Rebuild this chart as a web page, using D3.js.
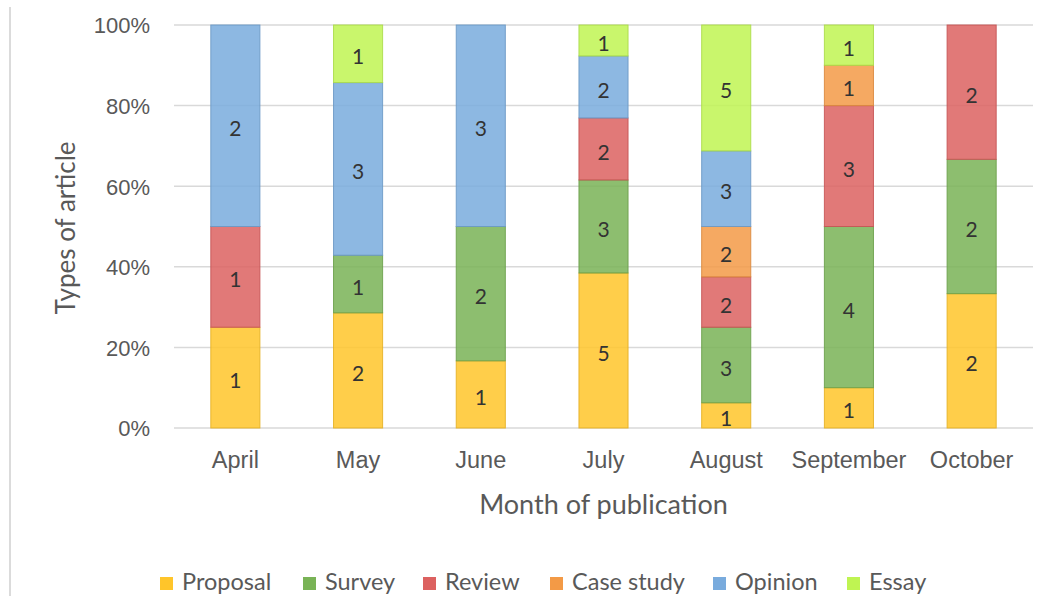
<!DOCTYPE html>
<html>
<head>
<meta charset="utf-8">
<title>Types of article by month</title>
<script src="https://cdnjs.cloudflare.com/ajax/libs/d3/7.8.5/d3.min.js"></script>
<style>
body { margin: 0; background: #fff; }
svg { font-family: Lato, "Open Sans", sans-serif; }
.grid line { stroke: #d9d9d9; stroke-width: 1.5; }
.axis text { fill: #595959; }
.ytick text { font-size: 22px; }
.xtick text { font-size: 23.5px; }
.seg { fill-opacity: 0.85; stroke-opacity: 0.9; stroke-width: 1; }
.val { fill: #333; font-size: 21px; text-anchor: middle; dominant-baseline: central; }
.title { fill: #595959; }
.legend text { fill: #595959; font-size: 23.5px; }
</style>
</head>
<body>
<div id="chart"></div>
<script>
// data
var months = ['April', 'May', 'June', 'July', 'August', 'September', 'October'];
var types = ['Proposal', 'Survey', 'Review', 'Case study', 'Opinion', 'Essay'];
var colors = ['#ffc52a', '#79b356', '#dc6160', '#f39a46', '#79abdd', '#bff452'];

var proposal  = [1, 2, 1, 5, 1, 1, 2];
var survey    = [0, 1, 2, 3, 3, 4, 2];
var review    = [1, 0, 0, 2, 2, 3, 2];
var caseStudy = [0, 0, 0, 0, 2, 1, 0];
var opinion   = [2, 3, 3, 2, 3, 0, 0];
var essay     = [0, 1, 0, 1, 5, 1, 0];

var yTicks = [0, 0.2, 0.4, 0.6, 0.8, 1];

var series = [proposal, survey, review, caseStudy, opinion, essay];

var rows = months.map(function (m, i) {
  var r = { month: m };
  types.forEach(function (t, j) { r[t] = series[j][i]; });
  return r;
});

var W = 1053, H = 596;
var svg = d3.select('#chart').append('svg')
  .attr('width', W).attr('height', H);

// thin frame line on the left
svg.append('line')
  .attr('x1', 10).attr('x2', 10).attr('y1', 7).attr('y2', H)
  .attr('stroke', '#cfcfcf').attr('stroke-width', 1.5);

var x = d3.scaleBand()
  .domain(months)
  .range([174, 1033])
  .paddingInner(0.6).paddingOuter(0.3);

var y = d3.scaleLinear().domain([0, 1]).range([428, 25]);

// gridlines
svg.append('g').attr('class', 'grid')
  .selectAll('line')
  .data(yTicks)
  .join('line')
  .attr('x1', 174).attr('x2', 1033)
  .attr('y1', d => y(d)).attr('y2', d => y(d));

// y axis labels
var yAxis = svg.append('g').attr('class', 'axis ytick')
  .attr('transform', 'translate(160,0)')
  .call(d3.axisLeft(y).tickValues(yTicks).tickFormat(d3.format('.0%')).tickSize(0).tickPadding(10));
yAxis.select('.domain').remove();
yAxis.selectAll('text').attr('dy', '0.36em');

// x axis labels
var xAxis = svg.append('g').attr('class', 'axis xtick')
  .attr('transform', 'translate(0,428)')
  .call(d3.axisBottom(x).tickSize(0).tickPadding(23));
xAxis.select('.domain').remove();

var stack = d3.stack().keys(types).offset(d3.stackOffsetExpand);
var layers = stack(rows);

var g = svg.append('g');
layers.forEach(function (layer, j) {
  var lg = g.append('g');
  lg.selectAll('rect')
    .data(layer.filter(d => d[1] - d[0] > 0))
    .join('rect')
    .attr('class', 'seg')
    .attr('x', d => x(d.data.month))
    .attr('width', x.bandwidth())
    .attr('y', d => y(d[1]))
    .attr('height', d => y(d[0]) - y(d[1]))
    .attr('fill', colors[j])
    .attr('stroke', d3.color(colors[j]).darker(0.3));
  lg.selectAll('text')
    .data(layer.filter(d => d[1] - d[0] > 0))
    .join('text')
    .attr('class', 'val')
    .attr('x', d => x(d.data.month) + x.bandwidth() / 2)
    .attr('y', d => (y(d[0]) + y(d[1])) / 2 + 2)
    .text(d => d.data[types[j]]);
});

// axis titles
svg.append('text').attr('class', 'title')
  .attr('text-anchor', 'middle')
  .style('font-size', '27px')
  .attr('x', (174 + 1033) / 2).attr('y', 514)
  .text('Month of publication');

svg.append('text').attr('class', 'title')
  .attr('text-anchor', 'middle')
  .style('font-size', '26px')
  .attr('transform', 'translate(75,228) rotate(-90)')
  .text('Types of article');

// legend
var legendX = [160, 303, 423, 550, 713, 847];
var legend = svg.append('g').attr('class', 'legend')
  .selectAll('g')
  .data(types)
  .join('g')
  .attr('transform', (d, i) => 'translate(' + legendX[i] + ',577)');
legend.append('rect')
  .attr('width', 13).attr('height', 13)
  .attr('fill', (d, i) => colors[i]);
legend.append('text')
  .attr('x', 22).attr('y', 13)
  .text(d => d);
</script>
</body>
</html>
